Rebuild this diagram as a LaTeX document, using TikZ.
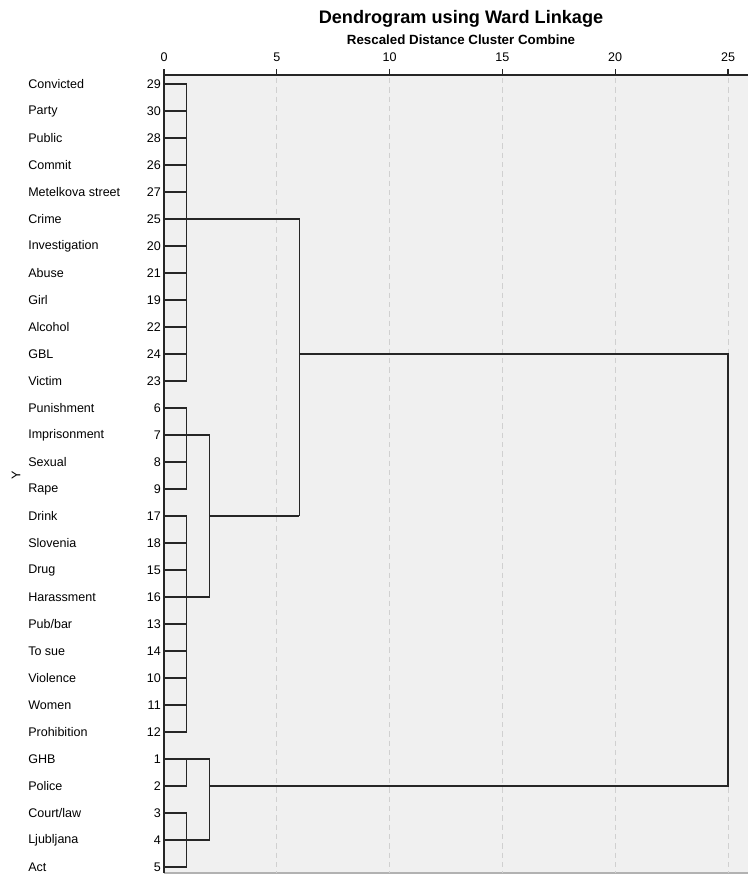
\documentclass[tikz,border=0pt]{standalone}
\usepackage{fontspec}
\setmainfont{Liberation Sans}
\usepackage{tikz}
\usetikzlibrary{positioning}
\definecolor{plotbg}{HTML}{F0F0F0}
\definecolor{gridgray}{HTML}{D0D0D0}

\begin{document}
\begin{tikzpicture}[
    x=0.75pt, y=-0.75pt,
    word/.style={anchor=west, inner sep=0pt, font=\fontsize{9.4}{11}\selectfont},
    num/.style={anchor=east, inner sep=0pt, font=\fontsize{9.4}{11}\selectfont},
    tick/.style={inner sep=0pt, font=\fontsize{9.4}{11}\selectfont},
    link/.style={line width=0.9pt, black!85},
    gridline/.style={gridgray, line width=0.7pt, dash pattern=on 4pt off 3pt}
]
\useasboundingbox (0,0) rectangle (748,875);
\fill[plotbg] (164,75) rectangle (748,873);
\draw[gray!60, line width=0.8pt] (164,873) -- (748,873);

% titles
\node[inner sep=0pt, font=\bfseries\fontsize{13.6}{16}\selectfont] (title) at (461,19) {Dendrogram using Ward Linkage};
\node[inner sep=0pt, font=\bfseries\fontsize{10}{12}\selectfont] (sub) at (461,40) {Rescaled Distance Cluster Combine};
\node[tick, rotate=90] (ylab) at (16,475) {Y};

% axis, ticks and grid
\foreach \t in {0,5,...,25} {
  \node[tick] (k\t) at ({164+22.56*\t},57) {\t};
  \draw[black!85, line width=0.9pt] ({164+22.56*\t},69) -- ({164+22.56*\t},75);
}
\foreach \t in {5,10,...,25}
  \draw[gridline] ({164+22.56*\t},78) -- ({164+22.56*\t},873);
\draw[black!85, line width=0.9pt] (748,75) -- (164,75) -- (164,873);

% leaves
\foreach \name/\num [count=\i] in {Convicted/29, Party/30, Public/28, Commit/26,
    Metelkova street/27, Crime/25, Investigation/20, Abuse/21, Girl/19, Alcohol/22,
    GBL/24, Victim/23, Punishment/6, Imprisonment/7, Sexual/8, Rape/9, Drink/17,
    Slovenia/18, Drug/15, Harassment/16, {Pub/bar}/13, To sue/14, Violence/10,
    Women/11, Prohibition/12, GHB/1, Police/2, {Court/law}/3, Ljubljana/4, Act/5} {
  \coordinate (r\i) at (164,{84+27*(\i-1)});
  \node[word] (w\num) at (28,{84+27*(\i-1)}) {\name};
  \node[num] (n\num) at (161,{84+27*(\i-1)}) {\num};
}

% merge levels
\coordinate (d1) at (186.6,75);
\coordinate (d2) at (209.1,75);
\coordinate (d6) at (299.4,75);
\coordinate (d25) at (728,75);

\foreach \i in {1,...,30}
  \draw[link] (r\i) -- (r\i -| d1);
\draw[link] (r1 -| d1) -- (r12 -| d1);
\draw[link] (r13 -| d1) -- (r16 -| d1);
\draw[link] (r17 -| d1) -- (r25 -| d1);
\draw[link] (r26 -| d1) -- (r27 -| d1);
\draw[link] (r28 -| d1) -- (r30 -| d1);

\draw[link] (r14 -| d1) -- (r14 -| d2) -- (r20 -| d2) -- (r20 -| d1);
\draw[link] (r26 -| d1) -- (r26 -| d2) -- (r29 -| d2) -- (r29 -| d1);
\draw[link] (r17 -| d2) -- (r17 -| d6);
\draw[link] (r6 -| d1) -- (r6 -| d6) -- (r17 -| d6);
\draw[link] (r11 -| d6) -- (r11 -| d25) -- (r27 -| d25) -- (r27 -| d2);
\end{tikzpicture}
\end{document}
